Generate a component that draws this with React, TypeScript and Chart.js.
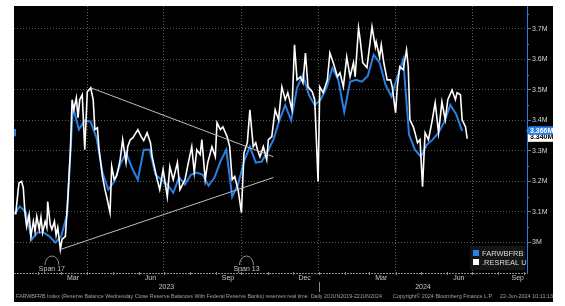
import React, { useEffect, useRef } from 'react';
import { Chart, registerables } from 'chart.js';

Chart.register(...registerables);

// ---- data (x = days since 1 Jan 2023) ----
const X_MIN = 3; // 4 Jan 2023
const X_MAX = 612; // 4 Sep 2024

// FARWBFRB: weekly Wednesday values starting 4 Jan 2023
const blueStartDay = 3;
const blueValues = [
  3.092, 3.118, 3.1, 3.01, 3.033, 3.033, 3.02, 3.0, 3.02, 3.092,
  3.445, 3.37, 3.4, 3.396, 3.343, 3.229, 3.173, 3.2, 3.255, 3.294,
  3.245, 3.206, 3.304, 3.304, 3.222, 3.206, 3.19, 3.163, 3.213, 3.19,
  3.222, 3.229, 3.222, 3.186, 3.213, 3.265, 3.304, 3.15, 3.19, 3.265,
  3.314, 3.262, 3.265, 3.298, 3.337, 3.4, 3.45, 3.4, 3.507, 3.55,
  3.484, 3.45, 3.468, 3.507, 3.572, 3.533, 3.428, 3.527, 3.533, 3.527,
  3.546, 3.615, 3.589, 3.517, 3.478, 3.543, 3.6, 3.353, 3.304, 3.281,
  3.32, 3.337, 3.36, 3.396, 3.451, 3.42, 3.366,
];

// .RESREAL U: daily real-time estimate
const whiteDays = [
  5, 8, 9, 12, 14, 16, 18, 21, 23, 26, 28, 30, 33, 35, 37, 40, 42, 43, 46, 48,
  51, 53, 55, 58, 60, 64, 67, 70, 72, 74, 77, 79, 81, 84, 87, 90, 92, 94, 97, 99,
  102, 104, 108, 111, 113, 117, 119, 122, 125, 129, 132, 136, 138, 141, 144, 150, 154, 157, 161, 165,
  167, 173, 176, 180, 185, 188, 192, 197, 200, 206, 210, 214, 217, 220, 224, 226, 230, 233, 238, 242,
  244, 248, 251, 256, 259, 262, 265, 269, 273, 276, 280, 283, 287, 290, 292, 295, 299, 303, 305, 309,
  313, 317, 321, 325, 328, 333, 336, 339, 343, 346, 349, 352, 357, 360, 364, 366, 370, 375, 378, 382,
  387, 390, 394, 398, 402, 406, 408, 412, 414, 417, 422, 428, 432, 433, 437, 439, 442, 446, 450, 452,
  456, 458, 461, 465, 469, 471, 473, 477, 479, 482, 485, 488, 491, 495, 499, 503, 507, 511, 515, 518,
  523, 527, 529, 533, 535, 539, 541,
];
const whiteValues = [
  3.092, 3.173, 3.196, 3.2, 3.18, 3.098, 3.052, 3.092, 3.02, 3.069, 3.036, 3.085, 3.043, 3.082, 3.033, 3.069, 3.049, 3.134, 3.059, 3.043,
  3.069, 3.023, 3.049, 2.977, 3.01, 3.02, 3.15, 3.304, 3.468, 3.435, 3.474, 3.409, 3.468, 3.484, 3.304, 3.494, 3.5, 3.507, 3.468, 3.37,
  3.376, 3.304, 3.216, 3.173, 3.15, 3.098, 3.249, 3.206, 3.219, 3.271, 3.337, 3.262, 3.314, 3.337, 3.343, 3.37, 3.347, 3.334, 3.36, 3.327,
  3.281, 3.206, 3.173, 3.239, 3.15, 3.249, 3.206, 3.262, 3.173, 3.206, 3.262, 3.314, 3.229, 3.304, 3.288, 3.337, 3.206, 3.262, 3.314, 3.281,
  3.393, 3.37, 3.379, 3.347, 3.314, 3.206, 3.216, 3.173, 3.098, 3.294, 3.327, 3.435, 3.314, 3.327, 3.304, 3.281, 3.314, 3.271, 3.337, 3.347,
  3.435, 3.402, 3.51, 3.468, 3.491, 3.435, 3.648, 3.533, 3.543, 3.523, 3.621, 3.51, 3.494, 3.468, 3.2, 3.51, 3.491, 3.533, 3.621, 3.589,
  3.543, 3.556, 3.51, 3.608, 3.543, 3.589, 3.543, 3.703, 3.664, 3.589, 3.573, 3.707, 3.641, 3.657, 3.608, 3.648, 3.589, 3.533, 3.533, 3.51,
  3.425, 3.51, 3.576, 3.566, 3.631, 3.576, 3.402, 3.379, 3.36, 3.327, 3.337, 3.183, 3.36, 3.337, 3.393, 3.458, 3.36, 3.461, 3.402, 3.468,
  3.5, 3.468, 3.491, 3.484, 3.402, 3.379, 3.34,
];

// trend lines drawn on the chart (day, value)
const upperTrendDays = [94, 311];
const upperTrendValues = [3.507, 3.281];
const lowerTrendDays = [58, 311];
const lowerTrendValues = [2.977, 3.213];

// annotations
const spanDays = [48, 279];
const spanLabels = ['Span 17', 'Span 13'];
const leftMarkerValues = [3.372, 3.348]; // cut-off marker at left edge

// axes
const yTicks = [3.0, 3.1, 3.2, 3.3, 3.4, 3.5, 3.6, 3.7];
const yTickLabels = ['3M', '3.1M', '3.2M', '3.3M', '3.4M', '3.5M', '3.6M', '3.7M'];
const gridDays = [90, 181, 273, 365, 456, 547]; // quarter boundaries
const monthLabelDays = [73, 165, 257, 348, 439, 531, 601];
const monthLabels = ['Mar', 'Jun', 'Sep', 'Dec', 'Mar', 'Jun', 'Sep'];
const yearStarts = [0, 365, 731];
const yearLabels = ['2023', '2024'];
const monthStartDays = [31, 59, 90, 120, 151, 181, 212, 243, 273, 304, 334, 365, 396, 425, 456, 486, 517, 547, 578, 609];

const seriesNames = ['FARWBFRB', '.RESREAL U'];
const footerParts = [
  'FARWBFRB Index (Reserve Balance Wednesday Close Reserve Balances With Federal Reserve Banks) reserves real time  Daily 20JUN2019-22JUN2024',
  'Copyright\u00a9 2024 Bloomberg Finance L.P.',
  '22-Jun-2024 10:11:13',
];

const BLUE = '#2a7fe3';
const GRID = 'rgba(120,120,120,0.75)';
const FONT = "'Liberation Sans', Arial, sans-serif";

const decorPlugin = {
  id: 'decor',
  beforeDraw(chart: any) {
    const { ctx, width, height } = chart;
    ctx.save();
    ctx.fillStyle = '#000';
    ctx.fillRect(0, 0, width, height);
    ctx.restore();
  },
  afterDraw(chart: any) {
    const { ctx, chartArea: a, scales, width } = chart;
    const x = scales.x;
    const y = scales.y;
    ctx.save();

    // x axis line
    ctx.strokeStyle = '#8c8c8c';
    ctx.lineWidth = 1;
    ctx.setLineDash([2, 1]);
    ctx.beginPath();
    ctx.moveTo(a.left, a.bottom + 0.5);
    ctx.lineTo(a.right, a.bottom + 0.5);
    ctx.stroke();
    ctx.setLineDash([]);
    // month ticks
    ctx.strokeStyle = '#8a8a8a';
    monthStartDays.forEach((d) => {
      const px = Math.round(x.getPixelForValue(d)) + 0.5;
      if (px < a.left || px > a.right) return;
      ctx.beginPath();
      ctx.moveTo(px, a.bottom - 1);
      ctx.lineTo(px, a.bottom + 2);
      ctx.stroke();
    });

    // minor y ticks
    ctx.strokeStyle = BLUE;
    for (let i = 0; i < yTicks.length; i++) {
      const v = yTicks[i] + 0.05;
      const py = Math.round(y.getPixelForValue(v)) + 0.5;
      if (py < a.top) continue;
      ctx.beginPath();
      ctx.moveTo(a.right, py);
      ctx.lineTo(a.right + 2, py);
      ctx.stroke();
    }

    // cut-off marker at left edge
    const m0 = y.getPixelForValue(leftMarkerValues[0]);
    const m1 = y.getPixelForValue(leftMarkerValues[1]);
    ctx.fillStyle = BLUE;
    ctx.fillRect(a.left, m0, 2, m1 - m0);

    // year labels and separator
    ctx.font = `7px ${FONT}`;
    ctx.fillStyle = '#c8c8c8';
    ctx.textAlign = 'center';
    ctx.textBaseline = 'middle';
    yearLabels.forEach((lab, i) => {
      const s = Math.max(X_MIN, yearStarts[i]);
      const e = Math.min(X_MAX, yearStarts[i + 1]);
      const cx = (x.getPixelForValue(s) + x.getPixelForValue(e)) / 2;
      ctx.fillText(lab, cx, a.bottom + 14);
      if (i > 0) {
        const px = Math.round(x.getPixelForValue(yearStarts[i])) + 0.5;
        ctx.strokeStyle = '#8a8a8a';
        ctx.beginPath();
        ctx.moveTo(px, a.bottom + 9);
        ctx.lineTo(px, a.bottom + 19);
        ctx.stroke();
      }
    });

    // span annotations
    ctx.strokeStyle = '#b0b0b0';
    ctx.lineWidth = 0.8;
    spanDays.forEach((d, i) => {
      const cx = x.getPixelForValue(d);
      ctx.beginPath();
      ctx.ellipse(cx, a.bottom - 8, 7, 9, 0, Math.PI, 2 * Math.PI);
      ctx.stroke();
      ctx.fillStyle = '#c8c8c8';
      ctx.fillText(spanLabels[i], cx, a.bottom - 4);
    });

    // legend
    const lx = a.right - 57;
    const ly = a.bottom - 27;
    ctx.fillStyle = '#151515';
    ctx.fillRect(lx, ly, 55, 24);
    const colors = [BLUE, '#ffffff'];
    ctx.textAlign = 'left';
    ctx.font = `7.5px ${FONT}`;
    seriesNames.forEach((n, i) => {
      const ry = ly + 4 + i * 9;
      ctx.fillStyle = colors[i];
      ctx.fillRect(lx + 3, ry, 6, 6);
      ctx.fillStyle = '#dcdcdc';
      ctx.fillText(n, lx + 12, ry + 3.5);
    });

    // last value boxes on right axis
    const lastWhite = whiteValues[whiteValues.length - 1];
    const lastBlue = blueValues[blueValues.length - 1];
    const by = y.getPixelForValue(lastBlue);
    ctx.font = `bold 7px ${FONT}`;
    ctx.fillStyle = '#ffffff';
    ctx.fillRect(a.right + 1, by + 3, width - a.right - 1, 8);
    ctx.fillStyle = '#000';
    ctx.fillText(lastWhite.toFixed(3) + 'M', a.right + 3, by + 6);
    ctx.fillStyle = BLUE;
    ctx.beginPath();
    ctx.moveTo(a.right - 1, by);
    ctx.lineTo(a.right + 2, by - 4.5);
    ctx.lineTo(width, by - 4.5);
    ctx.lineTo(width, by + 4);
    ctx.lineTo(a.right + 2, by + 4);
    ctx.closePath();
    ctx.fill();
    ctx.fillStyle = '#ffffff';
    ctx.fillText(lastBlue.toFixed(3) + 'M', a.right + 3, by);

    // footer
    ctx.font = `5px ${FONT}`;
    ctx.fillStyle = '#a0a0a0';
    const fy = a.bottom + 24;
    const starts = [2, 379, 486];
    const widths = [366, 100, 53];
    footerParts.forEach((t, i) => {
      const w = ctx.measureText(t).width;
      const k = widths[i] / w;
      ctx.save();
      ctx.translate(starts[i], fy);
      ctx.scale(k, 1);
      ctx.fillText(t, 0, 0);
      ctx.restore();
    });

    ctx.restore();
  },
};

export default function App() {
  const ref = useRef<HTMLCanvasElement>(null);
  useEffect(() => {
    const canvas = ref.current;
    if (!canvas) return;
    const gridSet = new Set(gridDays);
    const labelMap = new Map<number, string>();
    monthLabelDays.forEach((d, i) => labelMap.set(d, monthLabels[i]));
    const xTickValues = [...gridDays, ...monthLabelDays].sort((p, q) => p - q);

    const chart = new Chart(canvas, {
      type: 'line',
      data: {
        datasets: [
          {
            label: 'upper',
            data: upperTrendDays.map((d, i) => ({ x: d, y: upperTrendValues[i] })),
            borderColor: '#bdbdbd',
            borderWidth: 1,
            pointRadius: 0,
            order: 0,
          },
          {
            label: 'lower',
            data: lowerTrendDays.map((d, i) => ({ x: d, y: lowerTrendValues[i] })),
            borderColor: '#bdbdbd',
            borderWidth: 1,
            pointRadius: 0,
            order: 0,
          },
          {
            label: seriesNames[1],
            data: whiteDays.map((d, i) => ({ x: d, y: whiteValues[i] })),
            borderColor: '#ffffff',
            borderWidth: 1.6,
            pointRadius: 0,
            tension: 0,
            order: 1,
          },
          {
            label: seriesNames[0],
            data: blueValues.map((v, i) => ({ x: blueStartDay + 7 * i, y: v })),
            borderColor: BLUE,
            borderWidth: 2,
            pointRadius: 0,
            tension: 0,
            order: 2,
          },
        ],
      },
      options: {
        animation: false,
        responsive: false,
        events: [],
        layout: { padding: 0 },
        plugins: { legend: { display: false }, tooltip: { enabled: false } },
        scales: {
          x: {
            type: 'linear',
            position: 'bottom',
            min: X_MIN,
            max: X_MAX,
            afterBuildTicks: (s: any) => {
              s.ticks = xTickValues.map((v) => ({ value: v }));
            },
            afterFit: (s: any) => {
              s.height = 29;
              s.paddingLeft = 0;
              s.paddingRight = 0;
            },
            ticks: {
              autoSkip: false,
              maxRotation: 0,
              padding: 1,
              color: '#c8c8c8',
              font: { size: 7, family: FONT },
              callback: (v: any) => labelMap.get(Number(v)) ?? '',
            },
            grid: {
              drawTicks: false,
              color: (c: any) => (c.tick && gridSet.has(c.tick.value) ? GRID : 'rgba(0,0,0,0)'),
            },
            border: { display: false, dash: [1, 2] },
          },
          y: {
            type: 'linear',
            position: 'right',
            min: 2.9,
            max: 3.775,
            afterBuildTicks: (s: any) => {
              s.ticks = yTicks.map((v) => ({ value: v }));
            },
            afterFit: (s: any) => {
              s.width = 26;
              s.paddingTop = 0;
              s.paddingBottom = 0;
            },
            ticks: {
              padding: 1,
              color: '#d4d4d4',
              font: { size: 7, family: FONT },
              callback: (v: any) => {
                const i = yTicks.findIndex((t) => Math.abs(t - Number(v)) < 1e-6);
                return i >= 0 ? yTickLabels[i] : '';
              },
            },
            grid: { color: GRID, tickColor: BLUE, tickLength: 4 },
            border: { color: BLUE, width: 1, dash: [1, 2] },
          },
        },
      },
      plugins: [decorPlugin],
    } as any);
    return () => chart.destroy();
  }, []);

  return (
    <div style={{ position: 'absolute', left: 14, top: 6, width: 539, height: 296 }}>
      <canvas ref={ref} width={539} height={296} style={{ display: 'block' }} />
    </div>
  );
}
